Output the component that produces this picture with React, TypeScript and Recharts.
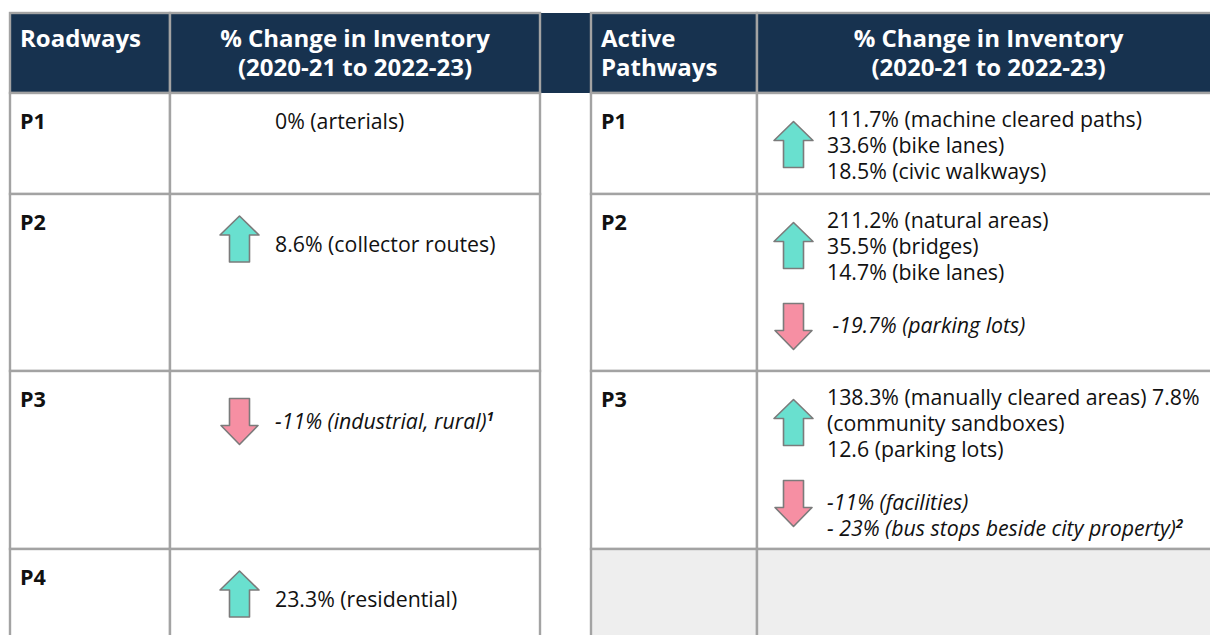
import { ComposedChart, ReferenceArea, XAxis, YAxis } from "recharts";

// table content
const priorities = ["P1", "P2", "P3", "P4"];
const roadwayTitle = ["Roadways"];
const pathwayTitle = ["Active", "Pathways"];
const changeTitle = ["% Change in Inventory", "(2020-21 to 2022-23)"];

const roadwayNoChange = ["0% (arterials)", "", "", ""];
const roadwayIncreases = [[], ["8.6% (collector routes)"], [], ["23.3% (residential)"]];
const roadwayDecreases = [[], [], ["-11% (industrial, rural)"], []];
const roadwayNotes = ["", "", "1", ""];

const pathwayPriorities = ["P1", "P2", "P3", ""];
const pathwayIncreases = [
  ["111.7% (machine cleared paths)", "33.6% (bike lanes)", "18.5% (civic walkways)"],
  ["211.2% (natural areas)", "35.5% (bridges)", "14.7% (bike lanes)"],
  ["138.3% (manually cleared areas) 7.8%", "(community sandboxes)", "12.6 (parking lots)"],
  [],
];
const pathwayDecreases = [
  [],
  ["\u00a0-19.7% (parking lots)"],
  ["-11% (facilities)", "- 23% (bus stops beside city property)"],
  [],
];
const pathwayNotes = ["", "", "2", ""];

// layout
const CHART_W = 1230;
const CHART_H = 640;
const rowEdges = [13, 93, 194, 371, 549, 660];
const roadwayCols = [10, 170, 540];
const pathwayCols = [591, 757, 1220];

const NAVY = "#17324f";
const GRID = "#a3a3a3";
const UP_FILL = "#69e0cf";
const DOWN_FILL = "#f68fa3";
const ARROW_STROKE = "#7b7b7b";
const FONT = "'Open Sans', 'Noto Sans', sans-serif";
const LINE = 26;
const BODY_SIZE = 21.3;

function Arrow({ cx, cy, up }: { cx: number; cy: number; up: boolean }) {
  const w = up ? 39 : 37;
  const h = 46;
  const head = 19;
  const s = 10;
  const t = cy - h / 2;
  const b = cy + h / 2;
  const pts = up
    ? [
        [cx, t],
        [cx + w / 2, t + head],
        [cx + s, t + head],
        [cx + s, b],
        [cx - s, b],
        [cx - s, t + head],
        [cx - w / 2, t + head],
      ]
    : [
        [cx, b],
        [cx + w / 2, b - head],
        [cx + s, b - head],
        [cx + s, t],
        [cx - s, t],
        [cx - s, b - head],
        [cx - w / 2, b - head],
      ];
  return (
    <polygon
      points={pts.map((p) => p.join(",")).join(" ")}
      fill={up ? UP_FILL : DOWN_FILL}
      stroke={ARROW_STROKE}
      strokeWidth={1.6}
      strokeLinejoin="round"
    />
  );
}

function Lines({
  lines,
  x,
  baseline,
  italic,
  note,
  anchor = "start",
  bold = false,
  color = "#111",
  size = BODY_SIZE,
  gap = LINE,
}: {
  lines: string[];
  x: number;
  baseline: number;
  italic?: boolean;
  note?: string;
  anchor?: "start" | "middle";
  bold?: boolean;
  color?: string;
  size?: number;
  gap?: number;
}) {
  return (
    <text
      fontFamily={FONT}
      fontSize={size}
      fontStyle={italic ? "italic" : "normal"}
      fontWeight={bold ? 700 : 400}
      fill={color}
      textAnchor={anchor}
    >
      {lines.map((line, i) => (
        <tspan key={i} x={x} y={baseline + i * gap}>
          {line}
          {note && i === lines.length - 1 ? (
            <tspan fontSize={13} fontWeight={700} dy={-8}>
              {note}
            </tspan>
          ) : null}
        </tspan>
      ))}
    </text>
  );
}

type Box = { x: number; y: number; width: number; height: number };

function cellRect(p: Box, fill: string) {
  return (
    <rect
      x={p.x}
      y={p.y}
      width={p.width}
      height={p.height}
      fill={fill}
      stroke={GRID}
      strokeWidth={2.4}
    />
  );
}

function headerShape(lines: string[], centered: boolean) {
  return (p: Box) => (
    <g>
      {cellRect(p, NAVY)}
      <Lines
        lines={lines}
        x={centered ? p.x + p.width / 2 : p.x + 10}
        baseline={p.y + 34}
        anchor={centered ? "middle" : "start"}
        bold
        color="#ffffff"
        size={24}
        gap={28.5}
      />
    </g>
  );
}

function labelShape(label: string, fill: string) {
  return (p: Box) => (
    <g>
      {cellRect(p, fill)}
      <Lines lines={[label]} x={p.x + 10} baseline={p.y + 36} bold size={21.6} />
    </g>
  );
}

function roadwayShape(i: number) {
  return (p: Box) => {
    const tx = p.x + 105;
    const ax = p.x + 69.5;
    const base = p.y + 57.5;
    return (
      <g>
        {cellRect(p, "#ffffff")}
        {roadwayNoChange[i] ? (
          <Lines lines={[roadwayNoChange[i]]} x={tx} baseline={p.y + 36} />
        ) : null}
        {roadwayIncreases[i].length ? (
          <g>
            <Arrow cx={ax} cy={base - 12.5} up />
            <Lines lines={roadwayIncreases[i]} x={tx} baseline={base} />
          </g>
        ) : null}
        {roadwayDecreases[i].length ? (
          <g>
            <Arrow cx={ax} cy={base - 7} up={false} />
            <Lines
              lines={roadwayDecreases[i]}
              x={tx}
              baseline={base}
              italic
              note={roadwayNotes[i]}
            />
          </g>
        ) : null}
      </g>
    );
  };
}

function pathwayShape(i: number) {
  return (p: Box) => {
    const empty = !pathwayIncreases[i].length && !pathwayDecreases[i].length;
    const tx = p.x + 70;
    const ax = p.x + 36.5;
    const ups = pathwayIncreases[i];
    const upBase = p.y + 33.5;
    const downBase = upBase + (ups.length - 1) * LINE + 53;
    return (
      <g>
        {cellRect(p, empty ? "#eeeeee" : "#ffffff")}
        {ups.length ? (
          <g>
            <Arrow cx={ax} cy={upBase + ((ups.length - 1) * LINE) / 2 - 8} up />
            <Lines lines={ups} x={tx} baseline={upBase} />
          </g>
        ) : null}
        {pathwayDecreases[i].length ? (
          <g>
            <Arrow cx={ax} cy={downBase - 6} up={false} />
            <Lines
              lines={pathwayDecreases[i]}
              x={tx}
              baseline={downBase}
              italic
              note={pathwayNotes[i]}
            />
          </g>
        ) : null}
      </g>
    );
  };
}

export default function App() {
  return (
    <div
      style={{
        position: "absolute",
        left: 0,
        top: 0,
        width: 1210,
        height: 635,
        overflow: "hidden",
        background: "#ffffff",
      }}
    >
      <ComposedChart
        width={CHART_W}
        height={CHART_H}
        margin={{ top: 0, right: 0, bottom: 0, left: 0 }}
      >
        <XAxis type="number" dataKey="x" domain={[0, CHART_W]} hide allowDataOverflow />
        <YAxis type="number" dataKey="y" domain={[0, CHART_H]} reversed hide allowDataOverflow />

        {/* dark band between the two header rows */}
        <ReferenceArea
          x1={roadwayCols[2]}
          x2={pathwayCols[0]}
          y1={rowEdges[0]}
          y2={rowEdges[1]}
          fill={NAVY}
          fillOpacity={1}
          stroke="none"
          ifOverflow="visible"
        />

        {/* roadways table */}
        <ReferenceArea
          x1={roadwayCols[0]}
          x2={roadwayCols[1]}
          y1={rowEdges[0]}
          y2={rowEdges[1]}
          ifOverflow="visible"
          shape={headerShape(roadwayTitle, false)}
        />
        <ReferenceArea
          x1={roadwayCols[1]}
          x2={roadwayCols[2]}
          y1={rowEdges[0]}
          y2={rowEdges[1]}
          ifOverflow="visible"
          shape={headerShape(changeTitle, true)}
        />
        {priorities.map((label, i) => (
          <ReferenceArea
            key={`rl-${label}`}
            x1={roadwayCols[0]}
            x2={roadwayCols[1]}
            y1={rowEdges[i + 1]}
            y2={rowEdges[i + 2]}
            ifOverflow="visible"
            shape={labelShape(label, "#ffffff")}
          />
        ))}
        {priorities.map((label, i) => (
          <ReferenceArea
            key={`rc-${label}`}
            x1={roadwayCols[1]}
            x2={roadwayCols[2]}
            y1={rowEdges[i + 1]}
            y2={rowEdges[i + 2]}
            ifOverflow="visible"
            shape={roadwayShape(i)}
          />
        ))}

        {/* active pathways table */}
        <ReferenceArea
          x1={pathwayCols[0]}
          x2={pathwayCols[1]}
          y1={rowEdges[0]}
          y2={rowEdges[1]}
          ifOverflow="visible"
          shape={headerShape(pathwayTitle, false)}
        />
        <ReferenceArea
          x1={pathwayCols[1]}
          x2={pathwayCols[2]}
          y1={rowEdges[0]}
          y2={rowEdges[1]}
          ifOverflow="visible"
          shape={headerShape(changeTitle, true)}
        />
        {pathwayPriorities.map((label, i) => (
          <ReferenceArea
            key={`pl-${i}`}
            x1={pathwayCols[0]}
            x2={pathwayCols[1]}
            y1={rowEdges[i + 1]}
            y2={rowEdges[i + 2]}
            ifOverflow="visible"
            shape={labelShape(label, label ? "#ffffff" : "#eeeeee")}
          />
        ))}
        {pathwayPriorities.map((label, i) => (
          <ReferenceArea
            key={`pc-${i}`}
            x1={pathwayCols[1]}
            x2={pathwayCols[2]}
            y1={rowEdges[i + 1]}
            y2={rowEdges[i + 2]}
            ifOverflow="visible"
            shape={pathwayShape(i)}
          />
        ))}
      </ComposedChart>
    </div>
  );
}
